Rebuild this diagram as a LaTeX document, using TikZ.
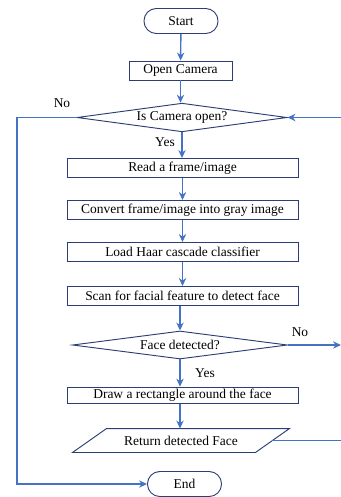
\documentclass[tikz,border=0pt]{standalone}
\usepackage{fontspec}
\setmainfont{Liberation Serif}
\usetikzlibrary{arrows.meta,shapes.geometric}
\definecolor{flowblue}{RGB}{68,114,196}
\definecolor{boxnavy}{RGB}{44,62,116}

\begin{document}
\begin{tikzpicture}[
  x=0.03cm, y=-0.03cm,
  base/.style={draw=boxnavy, line width=0.8pt, align=center, font=\fontsize{11.5}{13}\selectfont, inner sep=1pt},
  term/.style={base, rectangle, rounded corners=0.37cm, minimum width=2.22cm, minimum height=0.75cm},
  proc/.style={base, rectangle, minimum width=6.93cm, minimum height=0.57cm},
  decide/.style={base, diamond, aspect=7, minimum height=0.86cm},
  io/.style={base, draw=none, rectangle, minimum width=5.46cm, minimum height=0.69cm},
  lbl/.style={font=\fontsize{11.5}{13}\selectfont, inner sep=1pt},
  arrow/.style={-{Stealth[length=2.4mm,width=2.2mm]}, draw=flowblue, line width=1.2pt},
  link/.style={draw=flowblue, line width=1.2pt}
]
\useasboundingbox (0,0) rectangle (341,497);

% ==================== main column ====================
\node[term] (start) at (181, 21) {Start};
\node[proc, minimum width=3.09cm] (opencam) at (180.5, 70.5) {Open Camera};
\node[decide, minimum width=6.3cm] (camopen) at (182, 117.5) {Is Camera open?};
\node[proc] (read) at (182.5, 168) {Read a frame/image};
\node[proc] (gray) at (182.5, 210) {Convert frame/image into gray image};
\node[proc] (haar) at (182.5, 252) {Load Haar cascade classifier};
\node[proc] (scan) at (182.5, 296) {Scan for facial feature to detect face};
\node[decide, minimum width=6.45cm, minimum height=0.84cm] (facedet) at (180, 345) {Face detected?};
\node[proc, minimum height=0.5cm] (rect) at (182.5, 395.5) {Draw a rectangle around the face};
\node[io] (ret) at (181, 440.5) {Return detected Face};
\draw[boxnavy, line width=0.8pt]
  ([xshift=-0.51cm]ret.south west) -- ([xshift=0.51cm]ret.north west)
  -- ([xshift=0.51cm]ret.north east) -- ([xshift=-0.51cm]ret.south east) -- cycle;
\node[term] (end) at (184.5, 484) {End};

\draw[arrow] (start) -- (opencam);
\draw[arrow] (opencam) -- (opencam |- camopen.north);
\draw[arrow] (camopen) -- (camopen |- read.north);
\draw[arrow] (read) -- (gray);
\draw[arrow] (gray) -- (haar);
\draw[arrow] (haar) -- (scan);
\draw[arrow] (scan.south -| facedet) -- (facedet.north);
\draw[arrow] (facedet.south) -- (facedet |- rect.north);
\draw[arrow] (rect.south -| facedet) -- (facedet |- ret.north);

% ==================== labels ====================
\node[lbl] (no1) at (62, 103) {No};
\node[lbl] (yes1) at (165, 142) {Yes};
\node[lbl] (no2) at (300, 332) {No};
\node[lbl] (yes2) at (205, 373) {Yes};

% ==================== loops ====================
\coordinate (lft_top) at (17, 117.5);
\coordinate (lft_bot) at (17, 484);
\draw[arrow] (camopen.west) -- (lft_top) -- (lft_bot) -- (end.west);

\coordinate (redge) at (341, 345);
\coordinate (rgt_bot) at (347, 440.5);
\coordinate (rgt_top) at (347, 117.5);
\draw[arrow] (facedet.east) -- (redge);
\draw[arrow] (ret.east) -- (rgt_bot) -- (rgt_top) -- (camopen.east);

\end{tikzpicture}
\end{document}
